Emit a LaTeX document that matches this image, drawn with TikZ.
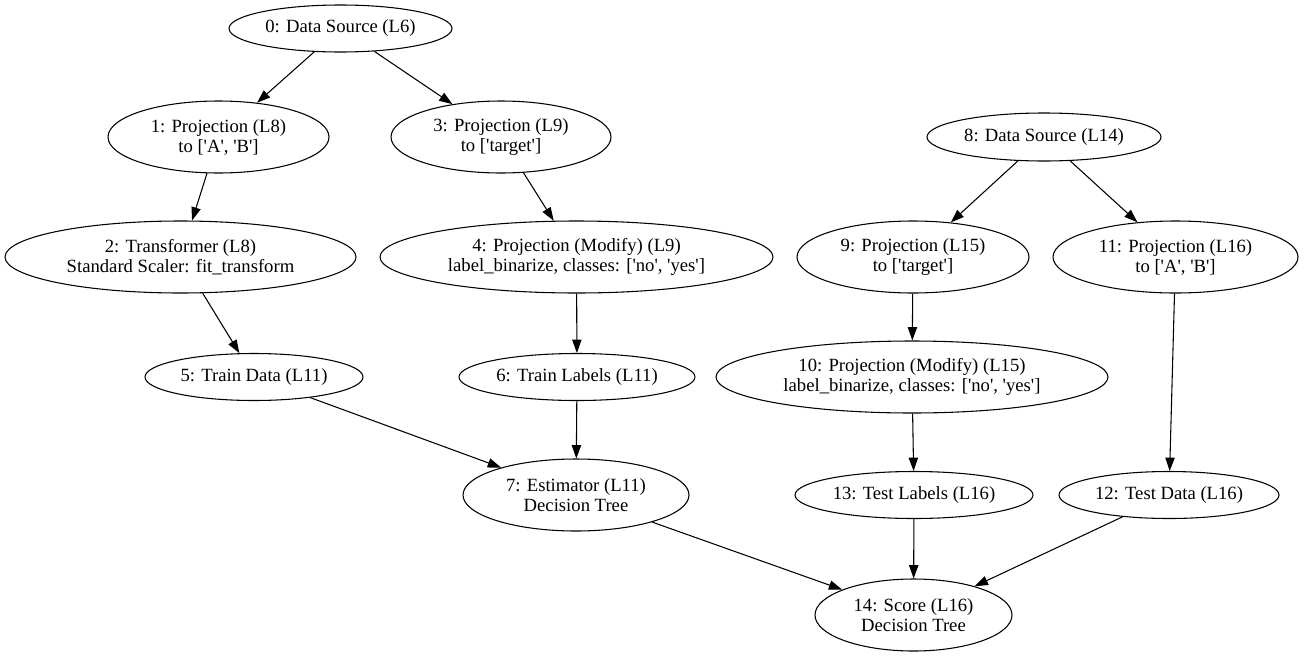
\documentclass[tikz,border=0pt]{standalone}
\usepackage{fontspec}
\setmainfont{Liberation Serif}
\usetikzlibrary{shapes.geometric}
\usetikzlibrary{arrows.meta}
\newcommand{\quo}[1]{\textquotesingle#1\textquotesingle}

\begin{document}
\begin{tikzpicture}[x=0.75pt,y=-0.75pt,
  op/.style 2 args={draw,ellipse,inner sep=0pt,align=center,line width=0.8pt,
    font=\fontsize{14}{15}\selectfont,minimum width=#1*1.5pt,minimum height=#2*1.5pt},
  flow/.style={-{Triangle[length=10pt,width=7pt]},line width=0.8pt}]
\useasboundingbox (0,0) rectangle (1306,657);
% first pipeline (train)
\node (n0) [op={111.5}{23.5}] at (340.5,28.5) {0: Data Source (L6)};
\node (n1) [op={110.5}{36}] at (218.5,137) {1: Projection (L8)\\to [\quo{A}, \quo{B}]};
\node (n3) [op={110}{36}] at (501,137) {3: Projection (L9)\\to [\quo{target}]};
\node (n2) [op={175.5}{36}] at (180.5,257) {2: Transformer (L8)\\Standard Scaler: fit\_transform};
\node (n4) [op={196.5}{36}] at (576.5,257) {4: Projection (Modify) (L9)\\label\_binarize, classes: [\quo{no}, \quo{yes}]};
\node (n5) [op={109}{23.5}] at (254,377) {5: Train Data (L11)};
\node (n6) [op={118}{23.5}] at (577,377) {6: Train Labels (L11)};
\node (n7) [op={113}{36}] at (576,495) {7: Estimator (L11)\\Decision Tree};
% second pipeline (test)
\node (n8) [op={117}{24}] at (1044,137) {8: Data Source (L14)};
\node (n9) [op={116}{36}] at (913,257) {9: Projection (L15)\\to [\quo{target}]};
\node (n11) [op={122.5}{36}] at (1175.5,257) {11: Projection (L16)\\to [\quo{A}, \quo{B}]};
\node (n10) [op={196}{36}] at (912,377) {10: Projection (Modify) (L15)\\label\_binarize, classes: [\quo{no}, \quo{yes}]};
\node (n13) [op={119}{23.5}] at (914,495) {13: Test Labels (L16)};
\node (n12) [op={110}{23.5}] at (1169,495) {12: Test Data (L16)};
\node (n14) [op={98.5}{36}] at (913.5,615) {14: Score (L16)\\Decision Tree};
% edges
\draw[flow] (n0) -- (n1);
\draw[flow] (n0) -- (n3);
\draw[flow] (n1) -- (n2);
\draw[flow] (n3) -- (n4);
\draw[flow] (n2) -- (n5);
\draw[flow] (n4) -- (n6);
\draw[flow] (n5) -- (n7);
\draw[flow] (n6) -- (n7);
\draw[flow] (n8) -- (n9);
\draw[flow] (n8) -- (n11);
\draw[flow] (n9) -- (n10);
\draw[flow] (n10) -- (n13);
\draw[flow] (n11) -- (n12);
\draw[flow] (n7) -- (n14);
\draw[flow] (n13) -- (n14);
\draw[flow] (n12) -- (n14);
\end{tikzpicture}
\end{document}
